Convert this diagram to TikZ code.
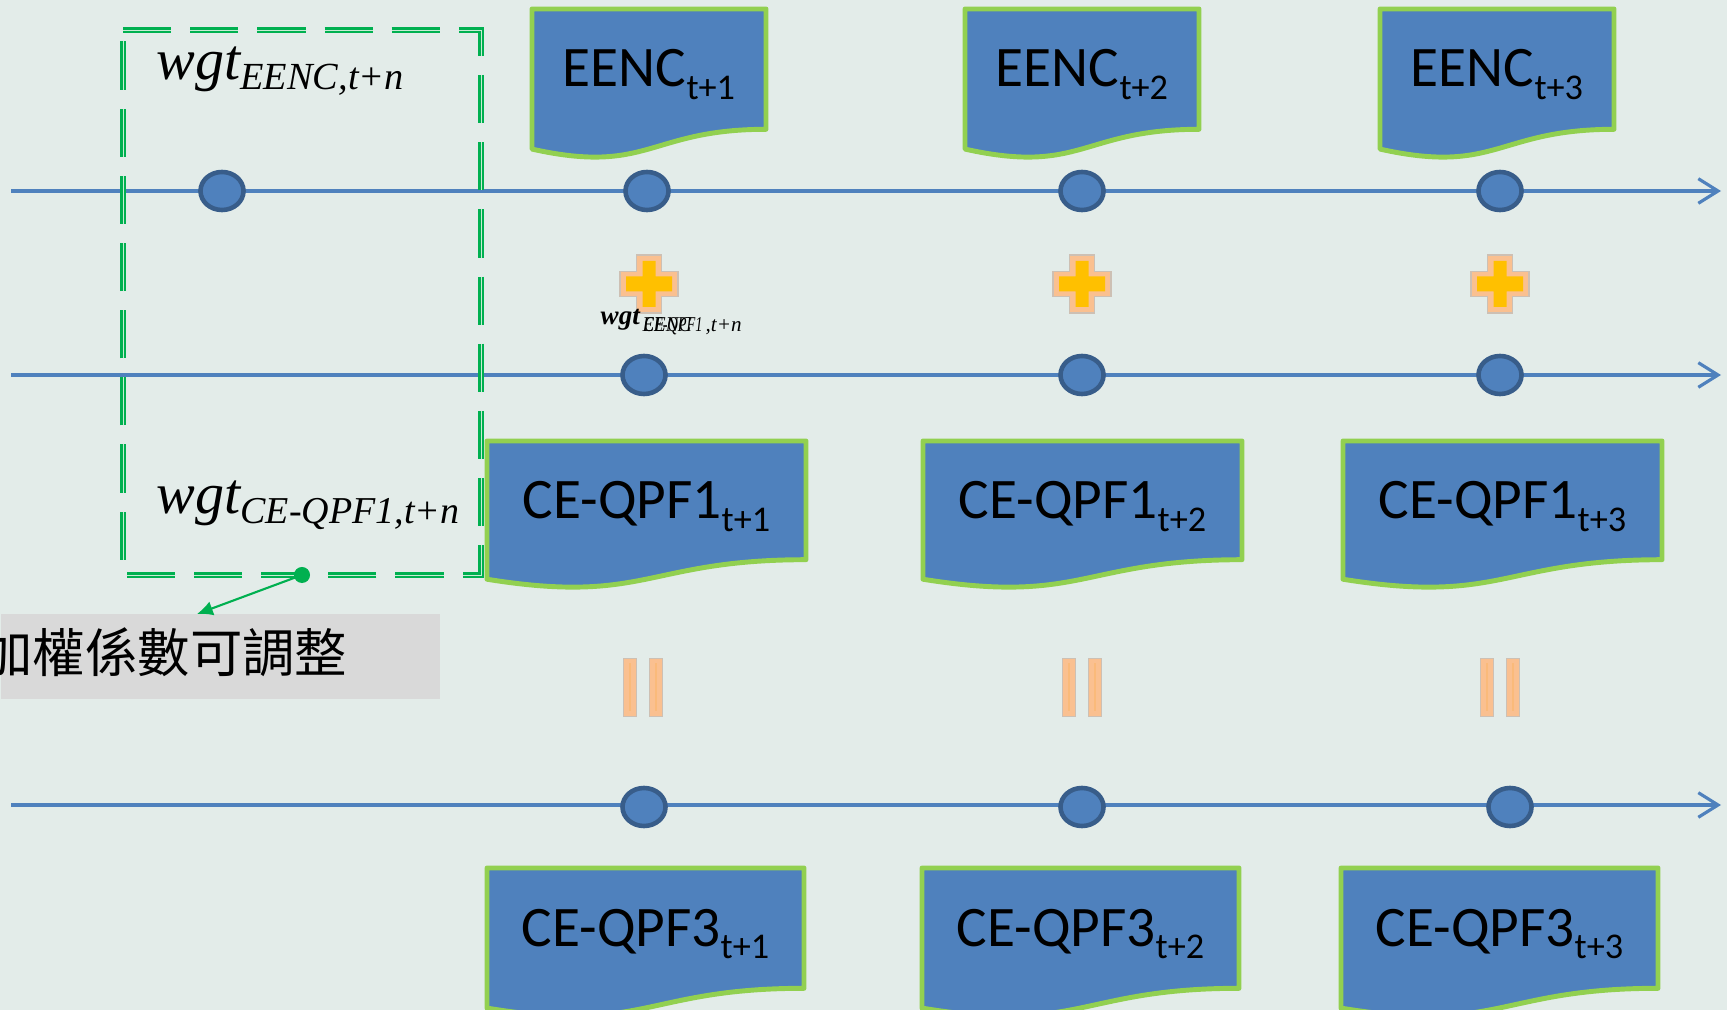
\documentclass[tikz,border=0pt]{standalone}
\usepackage{fontspec}
\setmainfont{Carlito}
\newfontfamily\cjkfont{Noto Sans CJK TC}
\newfontfamily\serifit{Liberation Serif}
\usetikzlibrary{shapes.geometric, arrows.meta}

\definecolor{bgc}{RGB}{227,236,233}
\definecolor{ofblue}{RGB}{79,129,189}
\definecolor{ofblueD}{RGB}{56,93,138}
\definecolor{ofgreen}{RGB}{146,208,80}
\definecolor{dgreen}{RGB}{0,176,80}
\definecolor{dgreenL}{RGB}{200,236,212}
\definecolor{notegray}{RGB}{217,217,217}
\definecolor{peach}{RGB}{250,192,144}
\definecolor{peachD}{RGB}{250,186,122}
\definecolor{peachedge}{RGB}{205,192,180}
\definecolor{amber}{RGB}{255,192,0}

\tikzset{
  timeline/.style={draw=ofblue, line width=0.9pt, -{Straight Barb[length=5.6pt,width=7pt,line width=0.9pt]}},
  tick/.style={ellipse, draw=ofblueD, fill=ofblue, line width=1.3pt,
    minimum width=0.43cm, minimum height=0.38cm, inner sep=0pt},
  docshape/.style={fill=ofblue, draw=ofgreen, line width=1.4pt, line join=round},
  doctext/.style={anchor=base, inner sep=0pt, text=black},
  dashbox/.style={draw=dgreen, line width=0.75pt, double=dgreenL, double distance=0.25pt,
    dash pattern=on 13.7pt off 5.4pt},
  wlabel/.style={anchor=base west, inner sep=0pt, text=black},
}

% document-style box: name, left, top, width, height, label
\newcommand\docbox[6]{%
  \draw[docshape] (#2,#3) -- ({#2+#4},#3) -- ({#2+#4},{#3+0.802*#5})
    .. controls ({#2+0.5*#4},{#3+0.802*#5}) and ({#2+0.5*#4},{#3+1.1075*#5}) ..
    (#2,{#3+0.934*#5}) -- cycle;
  \node[doctext] (#1) at ({#2+0.5*#4},{#3+78}) {#6};
}
\newcommand\boxlab[2]{\fontsize{16.3pt}{19pt}\selectfont #1\raisebox{-3.5pt}{\fontsize{10.3pt}{12pt}\selectfont #2}}

% plus sign: name, x, y
\newcommand\plusmark[3]{%
  \coordinate (#1) at (#2,#3);
  \begin{scope}[shift={(#1)}]
    \filldraw[fill=peach, draw=peachedge, line width=0.3pt]
      (-12.5,-29) -- (12.5,-29) -- (12.5,-12.5) -- (29,-12.5) -- (29,12.5) -- (12.5,12.5)
      -- (12.5,29) -- (-12.5,29) -- (-12.5,12.5) -- (-29,12.5) -- (-29,-12.5) -- (-12.5,-12.5) -- cycle;
    \fill[amber]
      (-6.5,-23) -- (6.5,-23) -- (6.5,-7.5) -- (23,-7.5) -- (23,7.5) -- (6.5,7.5)
      -- (6.5,23) -- (-6.5,23) -- (-6.5,7.5) -- (-23,7.5) -- (-23,-7.5) -- (-6.5,-7.5) -- cycle;
  \end{scope}
}

% equals sign turned upright: name, x, y
\newcommand\eqmark[3]{%
  \coordinate (#1) at (#2,#3);
  \begin{scope}[shift={(#1)}]
    \filldraw[fill=peach, draw=peachedge, line width=0.25pt] (-19.5,-29) rectangle (-6.5,29);
    \filldraw[fill=peach, draw=peachedge, line width=0.25pt] (6.5,-29) rectangle (19.5,29);
    \fill[peachD] (-14,-24) rectangle (-12,24);
    \fill[peachD] (12,-24) rectangle (14,24);
  \end{scope}
}

\begin{document}
\begin{tikzpicture}[x=0.01cm, y=-0.01cm]
  \useasboundingbox (0,0) rectangle (1727,1010);
  \clip (0,0) rectangle (1727,1010);
  \fill[bgc] (0,0) rectangle (1727,1010);

  % note box
  \node[fill=notegray, minimum width=4.39cm, minimum height=0.85cm, anchor=north west,
        inner sep=0pt] (note) at (0,613) {};
  \node[anchor=east, inner sep=0pt] (notetext) at (348,652)
    {\cjkfont\fontsize{14.9pt}{17pt}\selectfont 加權係數可調整};

  % time lines
  \coordinate (s1) at (11,191);  \coordinate (e1) at (1721,191);
  \coordinate (s2) at (11,375);  \coordinate (e2) at (1721,375);
  \coordinate (s3) at (11,805);  \coordinate (e3) at (1721,805);
  \draw[timeline] (s1) -- (e1);
  \draw[timeline] (s2) -- (e2);
  \draw[timeline] (s3) -- (e3);

  % adjustable weight frame
  \draw[dashbox] (123,30) -- (481,30) -- (481,575) -- (123,575) -- cycle;

  % time marks
  \node[tick] (c10) at (222,191) {};
  \node[tick] (c11) at (647,191) {};
  \node[tick] (c12) at (1082,191) {};
  \node[tick] (c13) at (1500,191) {};
  \node[tick] (c21) at (644,375) {};
  \node[tick] (c22) at (1082,375) {};
  \node[tick] (c23) at (1500,375) {};
  \node[tick] (c31) at (644,807) {};
  \node[tick] (c32) at (1082,807) {};
  \node[tick] (c33) at (1510,807) {};

  % forecast boxes
  \docbox{eenc1}{532}{9}{234}{150}{\boxlab{EENC}{t+1}}
  \docbox{eenc2}{965}{9}{234}{150}{\boxlab{EENC}{t+2}}
  \docbox{eenc3}{1380}{9}{234}{150}{\boxlab{EENC}{t+3}}
  \docbox{qpfa1}{487}{441}{319}{148}{\boxlab{CE-QPF1}{t+1}}
  \docbox{qpfa2}{923}{441}{319}{148}{\boxlab{CE-QPF1}{t+2}}
  \docbox{qpfa3}{1343}{441}{319}{148}{\boxlab{CE-QPF1}{t+3}}
  \docbox{qpfc1}{487}{868}{317}{150}{\boxlab{CE-QPF3}{t+1}}
  \docbox{qpfc2}{922}{868}{317}{150}{\boxlab{CE-QPF3}{t+2}}
  \docbox{qpfc3}{1341}{868}{317}{150}{\boxlab{CE-QPF3}{t+3}}

  % operators
  \plusmark{p1}{649}{284}
  \plusmark{p2}{1082}{284}
  \plusmark{p3}{1500}{284}
  \eqmark{q1}{643}{687}
  \eqmark{q2}{1082}{687}
  \eqmark{q3}{1500}{687}

  % weight labels
  \node[wlabel] (wgtE) at (156,80)
    {\serifit\itshape\fontsize{16.5pt}{19pt}\selectfont wgt\raisebox{-2.8pt}{\fontsize{10.9pt}{12pt}\selectfont EENC,t+n}};
  \node[wlabel] (wgtQ) at (156,514)
    {\serifit\itshape\fontsize{16.5pt}{19pt}\selectfont wgt\raisebox{-2.6pt}{\fontsize{10.8pt}{12pt}\selectfont CE-QPF1,t+n}};

  % overlapping small label near the first plus sign
  \node[wlabel] (wgtS) at (600,325) {\serifit\bfseries\itshape\fontsize{7.7pt}{9pt}\selectfont wgt};
  \node[wlabel, xscale=0.9] (wgtSa) at (642,332) {\serifit\itshape\fontsize{6pt}{7pt}\selectfont EENC};
  \node[wlabel, xscale=0.68] (wgtSb) at (644,332) {\serifit\itshape\fontsize{6pt}{7pt}\selectfont CE-QPF1};
  \node[wlabel] (wgtSc) at (705,332) {\serifit\itshape\fontsize{6pt}{7pt}\selectfont ,t+n};

  % pointer from the frame to the note
  \node[circle, fill=dgreen, minimum size=0.16cm, inner sep=0pt] (knob) at (302,575) {};
  \coordinate (tip) at (197,614);
  \draw[dgreen, line width=0.6pt, -{Latex[length=4.5pt,width=4.2pt]}] (knob.center) -- (tip);
\end{tikzpicture}
\end{document}
